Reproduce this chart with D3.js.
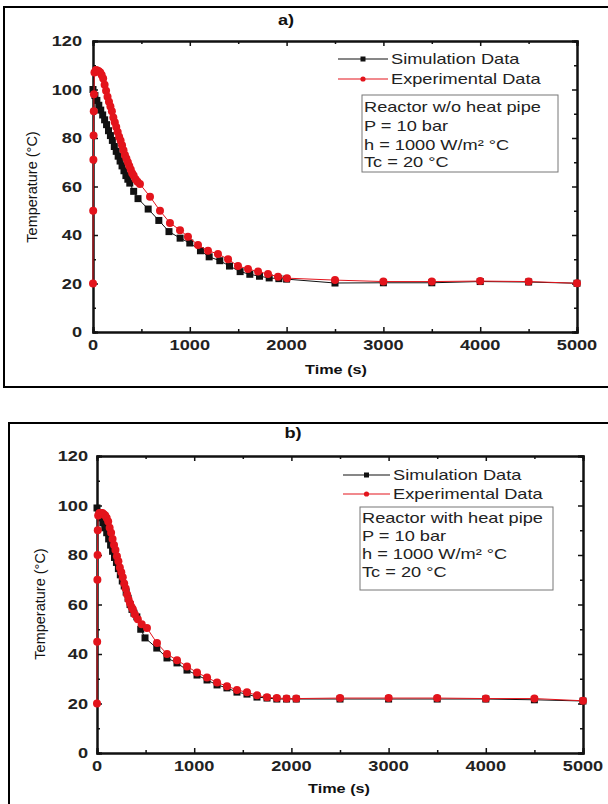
<!DOCTYPE html>
<html><head><meta charset="utf-8">
<script src="https://cdn.jsdelivr.net/npm/d3@7"></script>
<style>body{margin:0;background:#fff}svg{display:block}</style>
</head><body>
<script>
// ---- data ----
const xTicks = [0, 1000, 2000, 3000, 4000, 5000];
const yTicks = [0, 20, 40, 60, 80, 100, 120];
const seriesNames = ["Simulation Data", "Experimental Data"];

const simA = [[0,100],[20,97.5],[40,95.5],[60,93.5],[80,91.5],[100,89.5],[120,87.5],[140,85.5],[160,83],[180,81],[200,79],[220,76.5],[240,74.5],[260,72.5],[280,70.5],[300,68.5],[320,66.5],[340,64.5],[360,63],[380,61.4],[420,58],[465,55],[570,50.7],[680,46],[785,41.4],[900,38.7],[1000,36.7],[1110,33.5],[1200,31],[1310,29.4],[1410,27.2],[1520,24.9],[1620,23.8],[1720,23],[1820,22.3],[1920,22],[2000,21.8],[2500,20.2],[3000,20.3],[3500,20.3],[4000,20.8],[4500,20.6],[5000,20.1]];
const expA = [[0,20],[2,50],[4,71],[6,81],[8,91],[10,98],[15,107],[30,108],[45,107.8],[60,107.5],[75,107],[90,106],[105,104.5],[120,102],[135,99.5],[150,97],[165,95],[180,93],[195,91],[210,88.5],[225,86.5],[240,84.5],[255,82.5],[270,80.5],[285,79],[300,77],[315,75],[330,73],[345,71.5],[360,70],[375,68.5],[390,67],[405,65.5],[420,64.5],[440,63],[460,62],[485,61],[589,55.8],[692,50],[795,45],[899,42],[981,39.3],[1085,35.9],[1188,33.5],[1291,32.2],[1395,30],[1498,27.2],[1601,26],[1705,24.9],[1808,23.9],[1911,22.8],[2004,22.2],[2500,21.4],[3000,20.8],[3500,20.8],[4000,21],[4500,20.8],[5000,20.1]];

const simB = [[0,99],[20,97],[40,95],[60,93],[80,91],[100,89],[120,86.5],[140,84],[160,81.5],[180,79],[200,77],[220,74.5],[240,72],[260,69.5],[280,67.5],[300,65],[320,62.5],[340,60],[360,58],[380,56.5],[410,55],[450,50],[494,46.5],[615,42.4],[720,38.4],[823,36.4],[926,33.5],[1029,31.5],[1132,29.5],[1235,27.5],[1337,26.3],[1440,24.6],[1543,23.8],[1646,22.6],[1749,22.2],[1850,21.8],[1950,21.8],[2050,21.8],[2500,21.8],[3000,21.8],[3500,21.8],[4000,21.8],[4500,21.5],[5000,21]];
const expB = [[0,20],[2,45],[4,70],[6,80],[8,90],[12,96],[25,97],[40,97],[55,97],[70,96.5],[85,96],[100,95],[115,93.5],[130,91],[145,89],[160,86.5],[175,84],[190,82],[205,79.5],[220,77.5],[235,75],[250,73],[265,71],[280,68.5],[295,66.5],[310,64],[325,62],[340,60.5],[355,59],[370,58],[390,56],[420,54],[460,52],[514,50.5],[617,44.4],[720,40],[823,37.5],[926,35],[1029,32.5],[1132,30.5],[1235,28.5],[1337,27],[1440,25.5],[1543,24.5],[1646,23.3],[1749,22.5],[1850,22.2],[1950,22],[2050,22],[2500,22.2],[3000,22.2],[3500,22.2],[4000,22],[4500,22],[5000,21.1]];

const infoA = ["Reactor w/o heat pipe", "P = 10 bar", "h = 1000 W/m² °C", "Tc = 20 °C"];
const infoB = ["Reactor with heat pipe", "P = 10 bar", "h = 1000 W/m² °C", "Tc = 20 °C"];

// ---- drawing ----
const W = 608, H = 804;
const RED = "#e3141c", BLK = "#111";
const svg = d3.select("body").append("svg").attr("width", W).attr("height", H);
const FONT = "Liberation Sans, Arial, sans-serif";
const SX = 1.3; // horizontal stretch seen in the reference

function stretchedText(g, x, y, str, opts) {
  return g.append("text")
    .attr("transform", `translate(${x},${y}) scale(${SX},1)`)
    .attr("font-family", FONT)
    .attr("font-size", opts.size)
    .attr("font-weight", opts.bold ? "bold" : "normal")
    .attr("fill", opts.fill || "#111")
    .attr("text-anchor", opts.anchor || "start")
    .attr("dominant-baseline", "central")
    .text(str);
}

function panel(cfg) {
  const g = svg.append("g");
  g.append("rect").attr("x", cfg.frame[0]).attr("y", cfg.frame[1])
    .attr("width", cfg.frame[2]).attr("height", cfg.frame[3])
    .attr("fill", "none").attr("stroke", "#000").attr("stroke-width", 2);

  const [L, T, R, B] = cfg.plot;
  const x = d3.scaleLinear().domain([0, 5000]).range([L, R]);
  const y = d3.scaleLinear().domain([0, 120]).range([B, T]);

  const minorX = d3.range(500, 5000, 1000);
  const minorY = d3.range(10, 120, 20);
  const axes = [
    [d3.axisBottom(x).tickValues(xTicks).tickSize(-5), `translate(0,${B})`],
    [d3.axisBottom(x).tickValues(minorX).tickSize(-3), `translate(0,${B})`],
    [d3.axisTop(x).tickValues(xTicks).tickSize(-5), `translate(0,${T})`],
    [d3.axisTop(x).tickValues(minorX).tickSize(-3), `translate(0,${T})`],
    [d3.axisLeft(y).tickValues(yTicks).tickSize(-5), `translate(${L},0)`],
    [d3.axisLeft(y).tickValues(minorY).tickSize(-3), `translate(${L},0)`],
    [d3.axisRight(y).tickValues(yTicks).tickSize(-5), `translate(${R},0)`],
    [d3.axisRight(y).tickValues(minorY).tickSize(-3), `translate(${R},0)`]
  ];
  const axG = g.append("g");
  axes.forEach(([a, tr]) => {
    const s = axG.append("g").attr("transform", tr).call(a.tickFormat(""));
    s.select(".domain").attr("stroke", "#111").attr("stroke-width", 2);
    s.selectAll(".tick line").attr("stroke", "#111").attr("stroke-width", 1.5);
  });

  xTicks.forEach(v => stretchedText(g, x(v), B + 13, String(v), {size: 14, bold: true, anchor: "middle", fill: "#222"}));
  yTicks.forEach(v => stretchedText(g, L - cfg.yLabGap, y(v), String(v), {size: 14, bold: true, anchor: "end", fill: "#222"}));

  stretchedText(g, cfg.title[0], cfg.title[1], cfg.titleText, {size: 14, bold: true, anchor: "middle"});
  stretchedText(g, cfg.xlab[0], cfg.xlab[1], "Time (s)", {size: 12.5, bold: true, anchor: "middle"});
  g.append("text")
    .attr("transform", `translate(${cfg.ylab[0]},${cfg.ylab[1]}) rotate(-90)`)
    .attr("font-family", FONT).attr("font-size", 14.5).attr("fill", "#111")
    .attr("text-anchor", "middle").attr("dominant-baseline", "central")
    .text("Temperature (°C)");

  const line = d3.line().x(d => x(d[0])).y(d => y(d[1]));
  const data = g.append("g");
  data.append("path").datum(cfg.sim).attr("d", line).attr("fill", "none").attr("stroke", BLK).attr("stroke-width", 1);
  data.selectAll(".sq").data(cfg.sim).join("rect").attr("class", "sq")
    .attr("x", d => x(d[0]) - 3.5).attr("y", d => y(d[1]) - 3.5).attr("width", 7).attr("height", 7).attr("fill", BLK);
  data.append("path").datum(cfg.exp).attr("d", line).attr("fill", "none").attr("stroke", RED).attr("stroke-width", 1);
  data.selectAll(".ci").data(cfg.exp).join("circle").attr("class", "ci")
    .attr("cx", d => x(d[0])).attr("cy", d => y(d[1])).attr("r", 4).attr("fill", RED);

  const [lx0, lx1, ly0, ly1, ltx] = cfg.legend;
  const lg = g.append("g");
  [[ly0, BLK, "sq"], [ly1, RED, "ci"]].forEach(([ly, col, m], i) => {
    lg.append("line").attr("x1", lx0).attr("x2", lx1).attr("y1", ly).attr("y2", ly).attr("stroke", col).attr("stroke-width", 1.2);
    const cx = (lx0 + lx1) / 2;
    if (m === "sq") lg.append("rect").attr("x", cx - 2.5).attr("y", ly - 2.5).attr("width", 5).attr("height", 5).attr("fill", col);
    else lg.append("circle").attr("cx", cx).attr("cy", ly).attr("r", 2.6).attr("fill", col);
    stretchedText(lg, ltx, ly, seriesNames[i], {size: 14, anchor: "start", fill: "#222"});
  });

  const [bx, by, bw, bh] = cfg.box;
  g.append("rect").attr("x", bx).attr("y", by).attr("width", bw).attr("height", bh)
    .attr("fill", "#fff").attr("stroke", "#777").attr("stroke-width", 1);
  cfg.info.forEach((s, i) => stretchedText(g, bx + 2, cfg.infoY[i], s, {size: 14, anchor: "start", fill: "#222"}));
}

panel({
  frame: [4, 7, 610, 380],
  plot: [93, 41, 577, 332],
  yLabGap: 11,
  title: [286, 20], titleText: "a)",
  xlab: [336, 370],
  ylab: [32, 187],
  sim: simA, exp: expA,
  legend: [338, 388, 59, 79, 391],
  box: [362, 95, 196, 77],
  info: infoA, infoY: [107, 126, 145, 162]
});

panel({
  frame: [9, 423, 605, 386],
  plot: [97, 456, 583, 753],
  yLabGap: 9,
  title: [293, 433], titleText: "b)",
  xlab: [339, 789],
  ylab: [40, 604],
  sim: simB, exp: expB,
  legend: [343, 390, 475, 494, 393],
  box: [360, 507, 193, 83],
  info: infoB, infoY: [518, 536, 554, 572]
});
</script>
</body></html>
